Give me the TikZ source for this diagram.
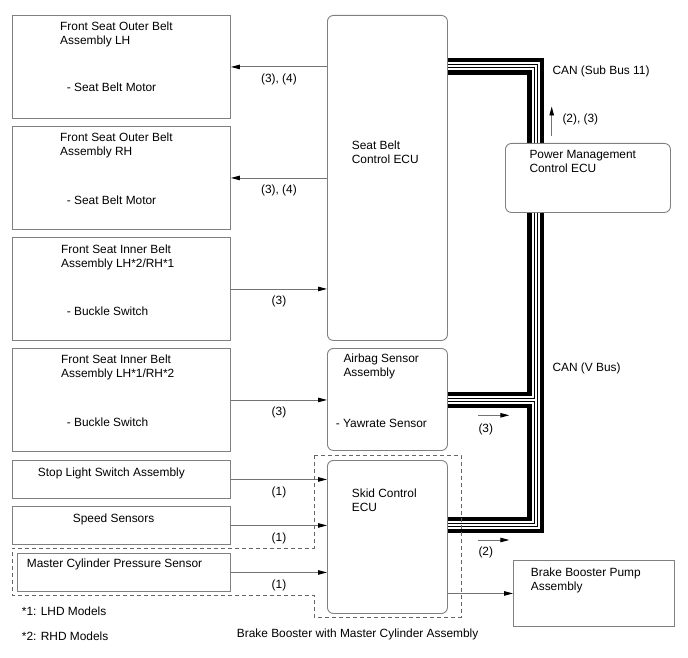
\documentclass[tikz,border=0pt]{standalone}
\usepackage{fontspec}
\setmainfont{Liberation Sans}
\usetikzlibrary{positioning,arrows.meta}

\begin{document}
\begin{tikzpicture}[
        x=1pt, y=-1pt,
        font=\fontsize{11.9}{14}\selectfont,
        box/.style={draw=black!50, line width=0.9pt, inner sep=0pt, anchor=north west},
        ecu/.style={box, rounded corners=6pt},
        txt/.style={align=left, inner sep=0pt, anchor=base west},
        twoline/.style={txt, yshift=-14pt},
        sig/.style={draw=black!55, line width=0.9pt, -{Triangle[length=9pt,width=4.5pt,color=black]}},
        lbl/.style={inner sep=0pt, midway, yshift=-12.5pt},
        dashbox/.style={draw=black!60, line width=0.9pt, dash pattern=on 4pt off 3pt}
    ]
    \useasboundingbox (0,0) rectangle (688,658);

    % --- Left column: belt assemblies and sensors ---
    \node[box, minimum width=218pt, minimum height=103pt] (outerlh) at (12,15) {};
    \node[box, minimum width=218pt, minimum height=103pt] (outerrh) at (12,126) {};
    \node[box, minimum width=218pt, minimum height=103pt] (innera) at (12,237) {};
    \node[box, minimum width=218pt, minimum height=103pt] (innerb) at (12,348) {};
    \node[box, minimum width=218pt, minimum height=38pt] (stoplight) at (12,460) {};
    \node[box, minimum width=218pt, minimum height=38pt] (speed) at (12,506) {};
    \node[box, minimum width=213pt, minimum height=38pt] (mastercyl) at (17,553) {};

    \node[twoline] (outerlh-t) at (60,31) {Front Seat Outer Belt\\Assembly LH};
    \node[txt] (outerlh-d) at (66.7,92) {- Seat Belt Motor};
    \node[twoline] (outerrh-t) at (60,142) {Front Seat Outer Belt\\Assembly RH};
    \node[txt] (outerrh-d) at (66.7,204) {- Seat Belt Motor};
    \node[twoline] (innera-t) at (61,253.5) {Front Seat Inner Belt\\Assembly LH*2/RH*1};
    \node[txt] (innera-d) at (66.7,315.5) {- Buckle Switch};
    \node[twoline] (innerb-t) at (61,363.5) {Front Seat Inner Belt\\Assembly LH*1/RH*2};
    \node[txt] (innerb-d) at (66.7,426) {- Buckle Switch};
    \node[txt] (stoplight-t) at (37.7,476) {Stop Light Switch Assembly};
    \node[txt] (speed-t) at (72.7,522) {Speed Sensors};
    \node[txt] (mastercyl-t) at (26.7,567) {Master Cylinder Pressure Sensor};

    % --- ECUs ---
    \node[ecu, minimum width=120pt, minimum height=325pt] (sbecu) at (327,15) {};
    \node[ecu, minimum width=120pt, minimum height=102pt] (airbag) at (327,348) {};
    \node[ecu, minimum width=120pt, minimum height=153pt] (skid) at (327,460) {};
    \node[box, minimum width=161pt, minimum height=66pt] (pump) at (513,560) {};

    \node[twoline] (sbecu-t) at (351.7,150) {Seat Belt\\Control ECU};
    \node[twoline] (airbag-t) at (343.3,362.5) {Airbag Sensor\\Assembly};
    \node[txt] (airbag-d) at (335.7,427) {- Yawrate Sensor};
    \node[twoline] (skid-t) at (351.7,497.6) {Skid Control\\ECU};
    \node[twoline] (pump-t) at (530.7,576) {Brake Booster Pump\\Assembly};

    % --- Signal lines ---
    \draw[sig] (sbecu.west |- outerlh.east) -- node[lbl] {(3), (4)} (outerlh.east);
    \draw[sig] (sbecu.west |- outerrh.east) -- node[lbl] {(3), (4)} (outerrh.east);
    \draw[sig] (innera.east) -- node[lbl] {(3)} (innera.east -| sbecu.west);
    \draw[sig] (innerb.east) -- node[lbl] {(3)} (innerb.east -| airbag.west);
    \foreach \src in {stoplight, speed, mastercyl} {
        \draw[sig] (\src.east) -- node[lbl] {(1)} (\src.east -| skid.west);
    }
    \draw[sig] (skid.east |- pump.west) -- (pump.west);

    % --- CAN bus ---
    \coordinate (bustop) at (535.5,66.5);
    \coordinate (bustee) at (535.5,400);
    \coordinate (busbot) at (535.5,525);
    \foreach \w/\c in {16.5/black, 8/white, 4/black, 2/white} {
        \draw[line width=\w pt, \c, line join=miter]
            (sbecu.east |- bustop) -- (bustop) -- (busbot) -- (skid.east |- busbot)
            (airbag.east |- bustee) -- (bustee);
    }

    % power management ECU sits on top of the bus
    \node[ecu, fill=white, minimum width=165pt, minimum height=69pt] (pmecu) at (505,143) {};
    \node[twoline] (pmecu-t) at (529.3,158.5) {Power Management\\Control ECU};

    \node[txt] (subbus) at (552.3,74.5) {CAN (Sub Bus 11)};
    \node[txt] (vbus) at (552.3,371) {CAN (V Bus)};

    % --- Bus messages ---
    \coordinate (pmout) at (551.7,136);
    \coordinate (pmtip) at (551.7,106.5);
    \draw[sig] (pmout) -- (pmtip);
    \node[txt] (pmout-l) at (562.3,122.5) {(2), (3)};
    \coordinate (about) at (478,415.3);
    \coordinate (abtip) at (509.3,415.3);
    \draw[sig] (about) -- (abtip);
    \node[txt] (about-l) at (478.3,432.5) {(3)};
    \coordinate (skout) at (477.7,540);
    \coordinate (sktip) at (509.3,540);
    \draw[sig] (skout) -- (sktip);
    \node[txt] (skout-l) at (478.3,555) {(2)};

    % --- Brake booster outline ---
    \draw[dashbox] (314,455) -- (461,455) -- (461,617) -- (314,617) -- (314,595)
        -- (12,595) -- (12,548) -- (314,548) -- cycle;
    \node[txt] (booster-t) at (236.7,637.5) {Brake Booster with Master Cylinder Assembly};

    % --- Notes ---
    \node[txt] (note1) at (21.7,615.5) {*1: LHD Models};
    \node[txt] (note2) at (21.7,640) {*2: RHD Models};

\end{tikzpicture}
\end{document}
